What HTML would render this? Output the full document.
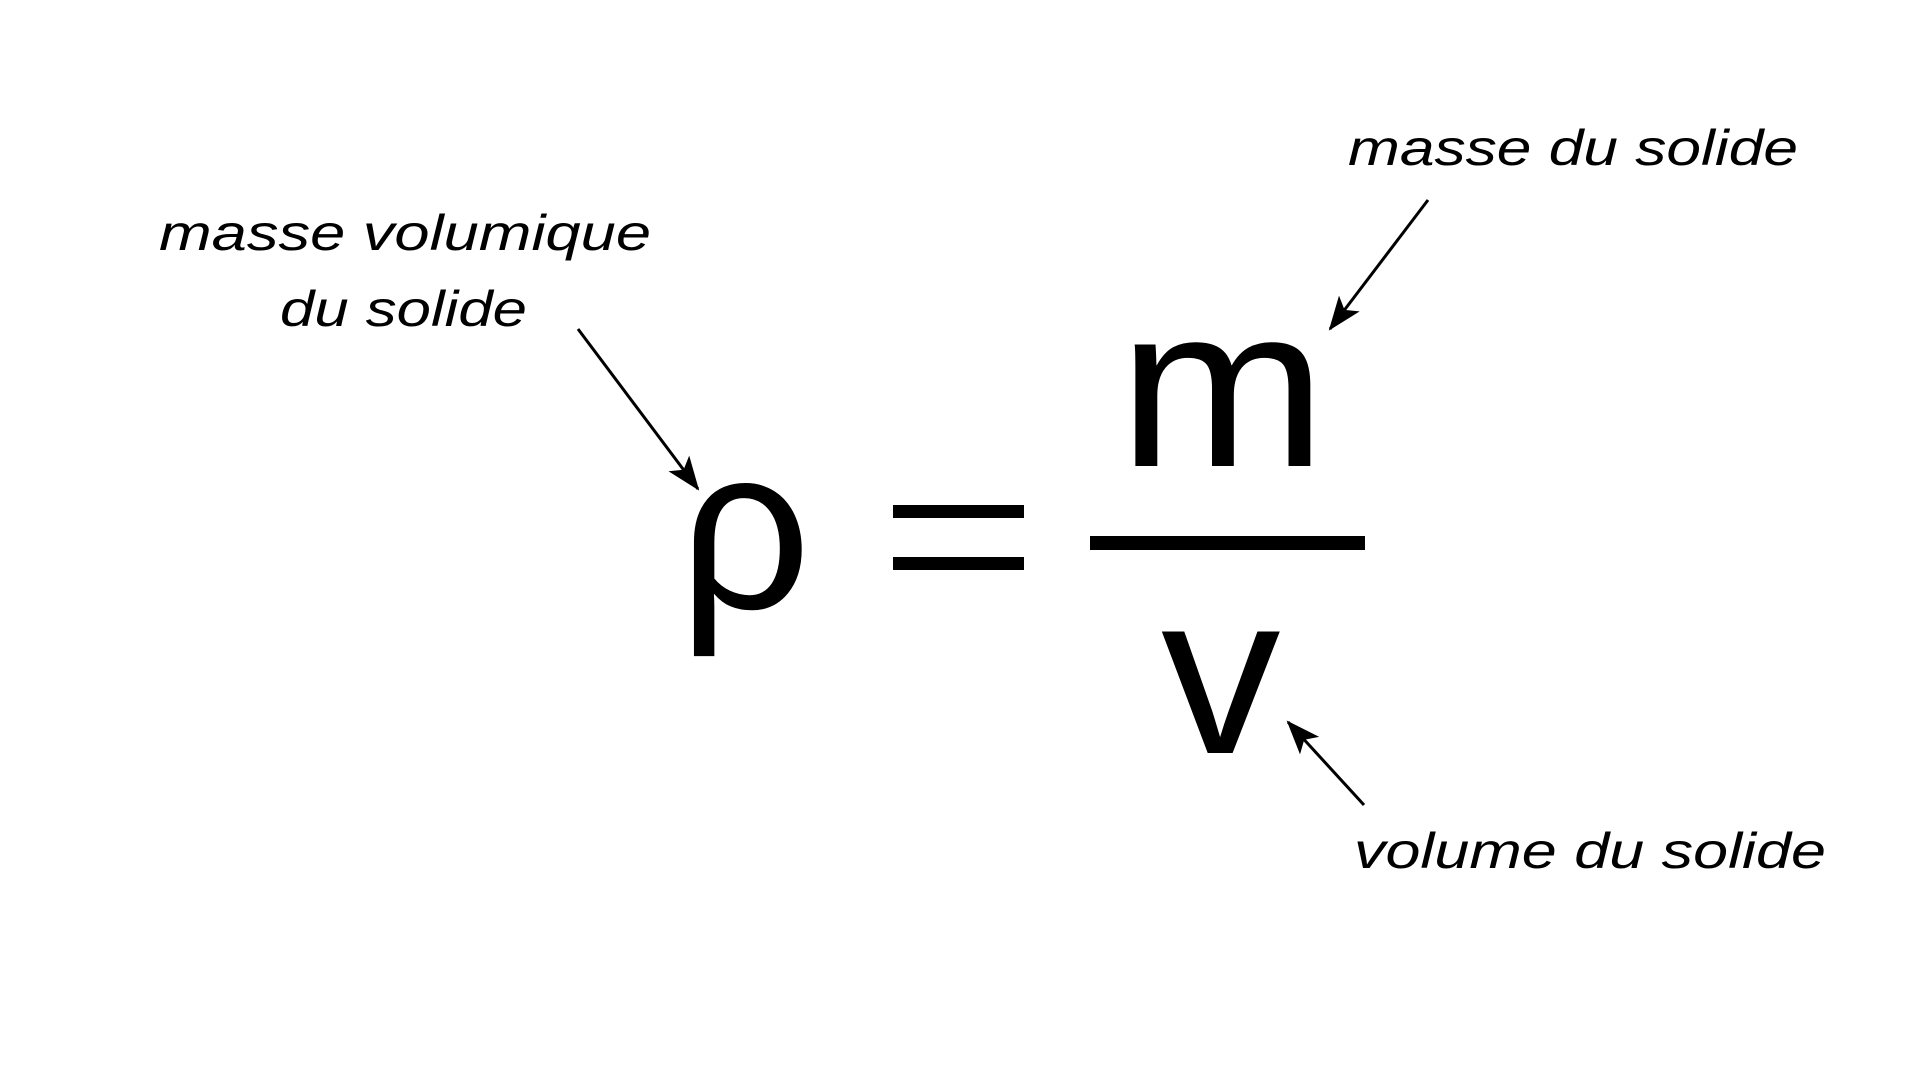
<!DOCTYPE html>
<html><head><meta charset="utf-8"><style>
html,body{margin:0;padding:0;background:#fff;}
svg{display:block;}
.h{font-family:"Liberation Sans",sans-serif;font-style:italic;font-size:50px;fill:#000;font-weight:normal;}
.b{font-family:"Liberation Sans","DejaVu Sans",sans-serif;fill:#000;}
</style></head><body>
<svg width="1920" height="1080" viewBox="0 0 1920 1080" xmlns="http://www.w3.org/2000/svg">
<defs><marker id="ar" markerWidth="34" markerHeight="26" refX="32" refY="13" orient="auto" markerUnits="userSpaceOnUse"><path d="M0,0 L34,13 L0,26 L8,13 Z" fill="#000"/></marker></defs>
<text class="h" x="159" y="250" textLength="492" lengthAdjust="spacingAndGlyphs">masse volumique</text>
<text class="h" x="280" y="326" textLength="247" lengthAdjust="spacingAndGlyphs">du solide</text>
<line x1="578" y1="329" x2="698" y2="489" stroke="#000" stroke-width="3" marker-end="url(#ar)"/>
<g transform="translate(-13,-2)">
<text class="h" x="1361" y="167" textLength="450" lengthAdjust="spacingAndGlyphs">masse du solide</text>
<text class="h" x="1367" y="870" textLength="472" lengthAdjust="spacingAndGlyphs">volume du solide</text>
<line x1="1441" y1="202" x2="1343" y2="331" stroke="#000" stroke-width="3" marker-end="url(#ar)"/>
<line x1="1377" y1="807" x2="1301" y2="724" stroke="#000" stroke-width="3" marker-end="url(#ar)"/>
<text class="b" x="692" y="610" font-size="232">ρ</text>
<rect x="906" y="507" width="131" height="13" fill="#000"/>
<rect x="906" y="559" width="131" height="13" fill="#000"/>
<rect x="1103" y="538" width="275" height="14" fill="#000"/>
</g>
<text class="b" font-size="230" transform="translate(1118,466) scale(1.09,1)" x="0" y="0">m</text>
<text class="b" font-size="230" transform="translate(1161,753) scale(1.04,1)" x="0" y="0">v</text>
</svg>
</body></html>
